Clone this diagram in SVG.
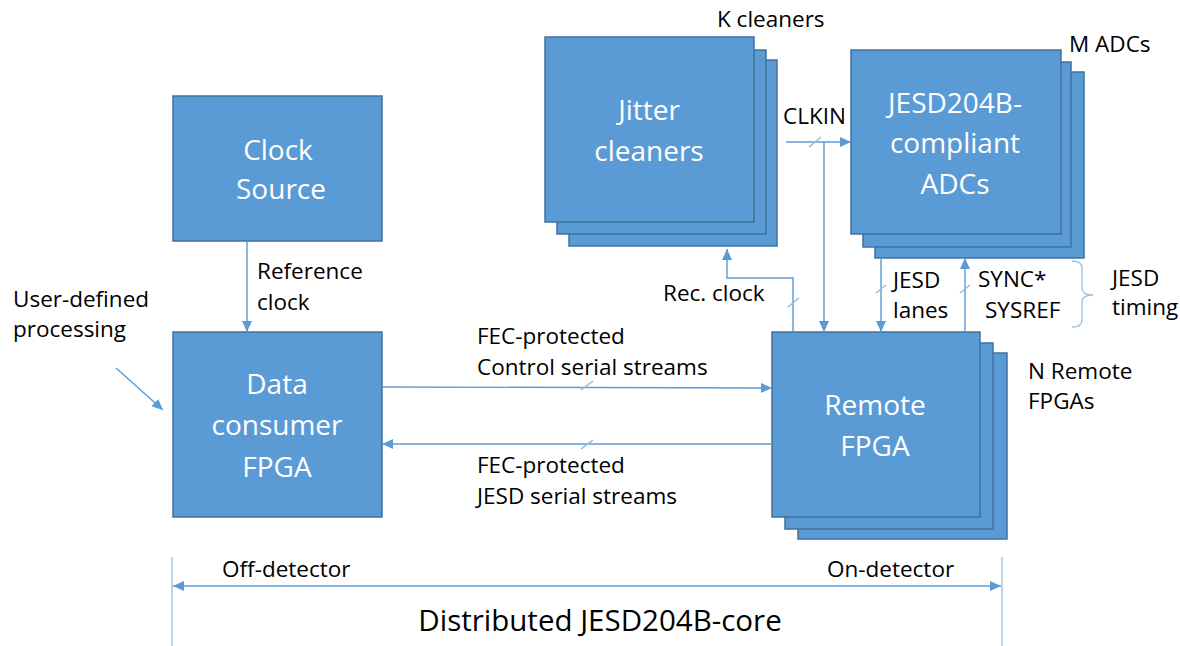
<svg xmlns="http://www.w3.org/2000/svg" width="1180" height="646" viewBox="0 0 1180 646">
  <style>
    .box { fill: #5B9BD5; stroke: #41719C; stroke-width: 1.5; }
    .node-text { font-family: "Open Sans", "Liberation Sans", sans-serif; font-size: 28px; fill: #ffffff; text-anchor: middle; }
    .label { font-family: "Open Sans", "Liberation Sans", sans-serif; font-size: 22.5px; fill: #000000; }
    .title { font-family: "Open Sans", "Liberation Sans", sans-serif; font-size: 29.5px; fill: #000000; text-anchor: middle; }
    .wire { fill: none; stroke: #5B9BD5; stroke-width: 1.4; }
    .tick { fill: none; stroke: #8FB9E3; stroke-width: 1.5; }
    .guide { fill: none; stroke: #9DC3E6; stroke-width: 1.4; }
  </style>
  <defs>
    <marker id="arrow" markerUnits="userSpaceOnUse" markerWidth="12" markerHeight="10" refX="11" refY="5" orient="auto">
      <path d="M0,0 L11,5 L0,10 z" fill="#5B9BD5"/>
    </marker>
    <marker id="arrow-start" markerUnits="userSpaceOnUse" markerWidth="12" markerHeight="10" refX="0" refY="5" orient="auto">
      <path d="M11,0 L0,5 L11,10 z" fill="#5B9BD5"/>
    </marker>
  </defs>

  <rect width="1180" height="646" fill="#ffffff"/>

  <!-- Nodes -->
  <g id="clock-source">
    <rect class="box" x="173" y="96" width="209" height="145"/>
    <text class="node-text" x="278" y="160">Clock</text>
    <text class="node-text" x="281" y="199">Source</text>
  </g>

  <g id="data-consumer-fpga">
    <rect class="box" x="173" y="332" width="209" height="185"/>
    <text class="node-text" x="277" y="394">Data</text>
    <text class="node-text" x="277" y="435">consumer</text>
    <text class="node-text" x="277" y="477">FPGA</text>
  </g>

  <g id="jitter-cleaners">
    <rect class="box" x="569" y="60" width="208" height="186"/>
    <rect class="box" x="557" y="50" width="209" height="184"/>
    <rect class="box" x="545" y="37" width="209" height="185"/>
    <text class="node-text" x="649" y="120">Jitter</text>
    <text class="node-text" x="649" y="161">cleaners</text>
  </g>

  <g id="adcs">
    <rect class="box" x="875" y="72" width="209" height="186"/>
    <rect class="box" x="863" y="62" width="208" height="185"/>
    <rect class="box" x="851" y="50" width="210" height="184"/>
    <text class="node-text" x="955" y="113">JESD204B-</text>
    <text class="node-text" x="955" y="153">compliant</text>
    <text class="node-text" x="955" y="194">ADCs</text>
  </g>

  <g id="remote-fpga">
    <rect class="box" x="798" y="353" width="209" height="186"/>
    <rect class="box" x="785" y="343" width="208" height="186"/>
    <rect class="box" x="772" y="332" width="208" height="185"/>
    <text class="node-text" x="875" y="415">Remote</text>
    <text class="node-text" x="875" y="456">FPGA</text>
  </g>

  <!-- Connectors -->
  <g id="connectors">
    <!-- Reference clock -->
    <line class="wire" x1="247" y1="241" x2="247" y2="332" marker-end="url(#arrow)"/>
    <!-- User-defined processing -->
    <line class="wire" x1="116" y1="368" x2="163" y2="410" marker-end="url(#arrow)"/>
    <!-- CLKIN -->
    <line class="wire" x1="786" y1="142" x2="851" y2="142" marker-end="url(#arrow)"/>
    <line class="tick" x1="809" y1="147" x2="821" y2="137"/>
    <line class="wire" x1="824" y1="142" x2="824" y2="332" marker-end="url(#arrow)"/>
    <!-- Recovered clock -->
    <polyline class="wire" points="793,332 793,278 727,278 727,249" marker-end="url(#arrow)"/>
    <line class="tick" x1="788" y1="307" x2="799" y2="298"/>
    <!-- JESD lanes -->
    <line class="wire" x1="881" y1="258" x2="881" y2="332" marker-end="url(#arrow)"/>
    <line class="tick" x1="876" y1="293" x2="886" y2="285"/>
    <!-- SYNC* / SYSREF -->
    <line class="wire" x1="965" y1="332" x2="965" y2="258" marker-end="url(#arrow)"/>
    <line class="tick" x1="960" y1="293" x2="970" y2="285"/>
    <!-- JESD timing brace -->
    <path class="guide" d="M1072,261 Q1082,261 1082,268 L1082,288 Q1082,295 1093,295 Q1082,295 1082,302 L1082,320 Q1082,327 1072,327"/>
    <!-- Control serial streams -->
    <line class="wire" x1="382" y1="387" x2="772" y2="388" marker-end="url(#arrow)"/>
    <line class="tick" x1="581" y1="390" x2="593" y2="381"/>
    <!-- JESD serial streams -->
    <line class="wire" x1="772" y1="444" x2="382" y2="444" marker-end="url(#arrow)"/>
    <line class="tick" x1="581" y1="449" x2="593" y2="440"/>
    <!-- Off/On-detector span -->
    <line class="guide" x1="172" y1="557" x2="172" y2="646"/>
    <line class="guide" x1="1002" y1="557" x2="1002" y2="646"/>
    <line class="wire" x1="173" y1="586" x2="1001" y2="586" marker-start="url(#arrow-start)" marker-end="url(#arrow)"/>
  </g>

  <!-- Labels -->
  <g id="labels">
    <text class="label" x="717" y="27">K cleaners</text>
    <text class="label" x="1069" y="52">M ADCs</text>
    <text class="label" x="783" y="124">CLKIN</text>
    <text class="label" x="257" y="279">Reference</text>
    <text class="label" x="257" y="310">clock</text>
    <text class="label" x="13" y="307">User-defined</text>
    <text class="label" x="13" y="337">processing</text>
    <text class="label" x="663" y="301">Rec. clock</text>
    <text class="label" x="893" y="288">JESD</text>
    <text class="label" x="893" y="318">lanes</text>
    <text class="label" x="978" y="287">SYNC*</text>
    <text class="label" x="985" y="318">SYSREF</text>
    <text class="label" x="1112" y="286">JESD</text>
    <text class="label" x="1112" y="315">timing</text>
    <text class="label" x="477" y="344">FEC-protected</text>
    <text class="label" x="477" y="375">Control serial streams</text>
    <text class="label" x="477" y="473">FEC-protected</text>
    <text class="label" x="477" y="504">JESD serial streams</text>
    <text class="label" x="1028" y="379">N Remote</text>
    <text class="label" x="1028" y="409">FPGAs</text>
    <text class="label" x="222" y="577">Off-detector</text>
    <text class="label" x="827" y="577">On-detector</text>
    <text class="title" x="600" y="631">Distributed JESD204B-core</text>
  </g>
</svg>
